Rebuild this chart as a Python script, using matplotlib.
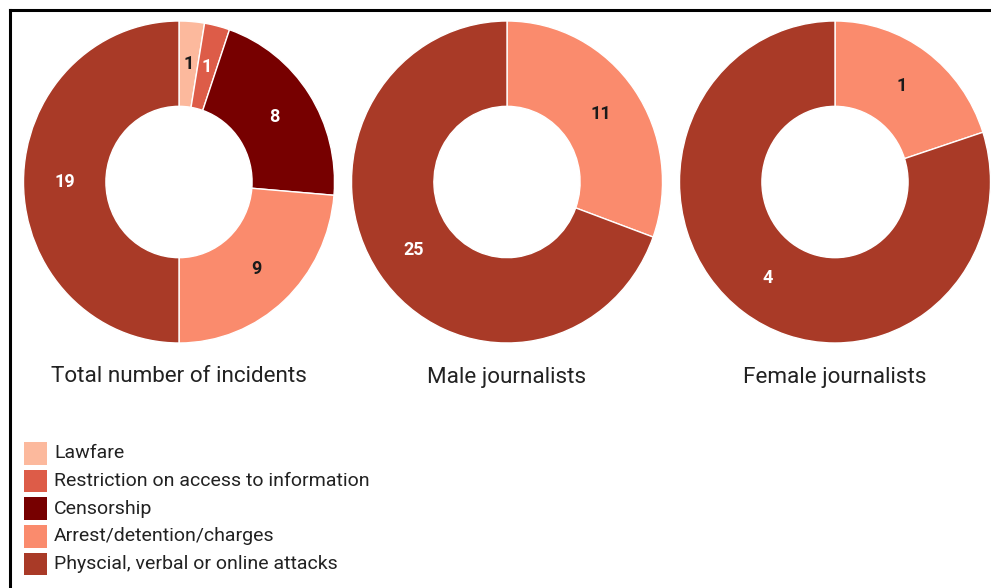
import matplotlib
matplotlib.use("Agg")
import matplotlib.pyplot as plt
from matplotlib.patches import Rectangle
from matplotlib.lines import Line2D

plt.rcParams["font.family"] = ["Roboto", "DejaVu Sans"]

categories = [
    "Lawfare",
    "Restriction on access to information",
    "Censorship",
    "Arrest/detention/charges",
    "Physcial, verbal or online attacks",
]
colors = ["#FCB99D", "#DD5C48", "#770000", "#FA8B6D", "#A93A27"]
label_colors = ["#1a1a1a", "white", "white", "#1a1a1a", "white"]

titles = ["Total number of incidents", "Male journalists", "Female journalists"]
total_values = [1, 1, 8, 9, 19]
male_values = [0, 0, 0, 11, 25]
female_values = [0, 0, 0, 1, 4]
panels = [total_values, male_values, female_values]

W, H = 991, 588
fig = plt.figure(figsize=(W / 100, H / 100), dpi=100)
fig.patch.set_facecolor("white")

def fx(px):
    return px / W

def fy(py):
    return 1 - py / H

centers_x = [179, 507, 835]
rx, top, bottom = 155.5, 21, 343
hole = 0.47

for cx, values, title in zip(centers_x, panels, titles):
    ax = fig.add_axes([fx(cx - rx), fy(bottom), fx(2 * rx), (bottom - top) / H])
    idx = [i for i, v in enumerate(values) if v > 0]
    vals = [values[i] for i in idx]
    tot = sum(vals)
    wedges, texts, autotexts = ax.pie(
        vals,
        colors=[colors[i] for i in idx],
        startangle=90,
        counterclock=False,
        radius=1.0,
        wedgeprops=dict(width=1 - hole, edgecolor="white", linewidth=1.0),
        autopct=lambda p, t=tot: f"{round(p * t / 100)}",
        pctdistance=0.735,
        textprops=dict(fontsize=13, fontweight="bold"),
    )
    for i, at in zip(idx, autotexts):
        at.set_color(label_colors[i])
    ax.set_xlim(-1, 1)
    ax.set_ylim(-1, 1)
    ax.set_aspect("auto")
    ax.axis("off")
    fig.text(fx(cx), fy(377), title, ha="center", va="center",
             fontsize=16.2, color="#222222")

# legend
y0, step, sq = 442, 27.7, 22.5
for k, (lab, col) in enumerate(zip(categories, colors)):
    y = y0 + k * step
    fig.add_artist(Rectangle((fx(24), fy(y + sq)), fx(23), sq / H,
                             transform=fig.transFigure, facecolor=col,
                             edgecolor="none"))
    fig.text(fx(54), fy(y + sq / 2), lab, ha="left", va="center",
             fontsize=14, color="#222222")

# frame lines
fig.add_artist(Line2D([fx(9.5), 1], [fy(9.5), fy(9.5)], transform=fig.transFigure,
                      color="black", linewidth=2.2))
fig.add_artist(Line2D([fx(9.5), fx(9.5)], [fy(9.5), 0], transform=fig.transFigure,
                      color="black", linewidth=2.2))

fig.savefig("out.png", dpi=100, facecolor="white")
